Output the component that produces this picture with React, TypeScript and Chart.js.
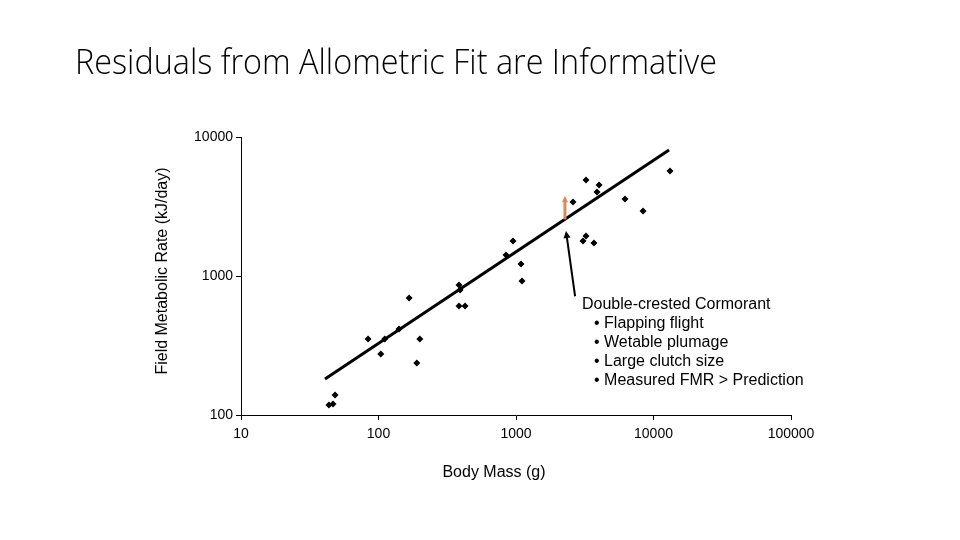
import { useEffect, useRef } from "react";
import { Chart, registerables } from "chart.js";

Chart.register(...registerables);

// Body mass (g) and field metabolic rate (kJ/day)
const bodyMass = [
  43.6, 46.7, 48.3, 84, 104, 111, 141, 167, 200, 190, 385, 392, 385, 426, 846,
  951, 1087, 1106, 2598, 3229, 4017, 3882, 3229, 3070, 3690, 6206, 8392, 13183,
];
const fieldMetabolicRate = [
  118, 120, 139, 352, 275, 352, 416, 695, 352, 237, 861, 793, 608, 608, 1416,
  1786, 1220, 920, 3406, 4907, 4515, 4022, 1940, 1786, 1727, 3580, 2936, 5693,
];

// allometric fit line end points
const fitMass = [40.8, 12970];
const fitRate = [181.6, 8061];

// cormorant residual arrow (mass, predicted, measured)
const cormorantMass = 2270;
const cormorantPredicted = 2553;
const cormorantMeasured = 3760;
// pointer from note to fit line
const pointerFrom = [2690, 715];
const pointerTo = [2310, 2110];

const xTicks = [10, 100, 1000, 10000, 100000];
const yTicks = [100, 1000, 10000];

const title = "Residuals from Allometric Fit are Informative";
const xTitle = "Body Mass (g)";
const yTitle = "Field Metabolic Rate (kJ/day)";
const noteLines = [
  "Double-crested Cormorant",
  "• Flapping flight",
  "• Wetable plumage",
  "• Large clutch size",
  "• Measured FMR > Prediction",
];

const ARIAL = "'Liberation Sans', Arial, sans-serif";

const drawArrow = (
  ctx: CanvasRenderingContext2D,
  x1: number,
  y1: number,
  x2: number,
  y2: number,
  color: string,
  width: number,
  head: number
) => {
  const ang = Math.atan2(y2 - y1, x2 - x1);
  ctx.save();
  ctx.strokeStyle = color;
  ctx.fillStyle = color;
  ctx.lineWidth = width;
  ctx.beginPath();
  ctx.moveTo(x1, y1);
  ctx.lineTo(x2 - Math.cos(ang) * head * 0.8, y2 - Math.sin(ang) * head * 0.8);
  ctx.stroke();
  ctx.beginPath();
  ctx.moveTo(x2, y2);
  ctx.lineTo(
    x2 - head * Math.cos(ang - 0.45),
    y2 - head * Math.sin(ang - 0.45)
  );
  ctx.lineTo(
    x2 - head * Math.cos(ang + 0.45),
    y2 - head * Math.sin(ang + 0.45)
  );
  ctx.closePath();
  ctx.fill();
  ctx.restore();
};

// title, axis titles, arrows and the note text
const annotations = {
  id: "annotations",
  afterDatasetsDraw(chart: any) {
    const { ctx, scales } = chart;
    const xs = scales.x;
    const ys = scales.y;

    ctx.save();
    ctx.font = "300 35px 'Open Sans', sans-serif";
    ctx.fillStyle = "#000";
    ctx.textBaseline = "alphabetic";
    const w = ctx.measureText(title).width;
    ctx.translate(75, 74);
    ctx.scale(642 / w, 1);
    ctx.fillText(title, 0, 0);
    ctx.restore();

    // axis titles (off-centre in the original)
    ctx.save();
    ctx.font = `16px ${ARIAL}`;
    ctx.fillStyle = "#000";
    ctx.textAlign = "center";
    ctx.textBaseline = "middle";
    ctx.fillText(xTitle, 494, 473);
    ctx.translate(163, 271);
    ctx.rotate(-Math.PI / 2);
    ctx.fillText(yTitle, 0, 0);
    ctx.restore();

    const cx = xs.getPixelForValue(cormorantMass);
    drawArrow(
      ctx,
      cx,
      ys.getPixelForValue(cormorantPredicted),
      cx,
      ys.getPixelForValue(cormorantMeasured),
      "#d98a56",
      3,
      7
    );

    drawArrow(
      ctx,
      xs.getPixelForValue(pointerFrom[0]),
      ys.getPixelForValue(pointerFrom[1]),
      xs.getPixelForValue(pointerTo[0]),
      ys.getPixelForValue(pointerTo[1]),
      "#000",
      2,
      8
    );

    ctx.save();
    ctx.font = `16px ${ARIAL}`;
    ctx.fillStyle = "#000";
    ctx.textBaseline = "middle";
    noteLines.forEach((line, i) => {
      ctx.fillText(line, i === 0 ? 582 : 594, 305 + i * 19);
    });
    ctx.restore();
  },
};

export default function App() {
  const canvasRef = useRef<HTMLCanvasElement | null>(null);

  useEffect(() => {
    if (!canvasRef.current) return;
    const chart = new Chart(canvasRef.current, {
      type: "scatter",
      data: {
        datasets: [
          {
            label: "FMR",
            data: bodyMass.map((m, i) => ({ x: m, y: fieldMetabolicRate[i] })),
            pointStyle: "rectRot",
            pointRadius: 3.5,
            backgroundColor: "#000",
            borderColor: "#000",
            borderWidth: 0,
          },
          {
            label: "Fit",
            type: "line",
            data: fitMass.map((m, i) => ({ x: m, y: fitRate[i] })),
            borderColor: "#000",
            borderWidth: 3,
            pointRadius: 0,
            fill: false,
          },
        ],
      },
      options: {
        animation: false,
        responsive: true,
        maintainAspectRatio: false,
        layout: { padding: { left: 149, right: 169, top: 137, bottom: 53 } },
        plugins: {
          legend: { display: false },
          tooltip: { enabled: false },
        },
        scales: {
          x: {
            type: "logarithmic",
            min: 10,
            max: 100000,
            afterBuildTicks: (s: any) => {
              s.ticks = xTicks.map((v) => ({ value: v }));
            },
            afterFit: (s: any) => {
              s.height = 72;
            },
            ticks: {
              callback: (v: any) => String(v),
              color: "#000",
              font: { family: ARIAL, size: 14 },
              padding: 6,
              maxRotation: 0,
            },
            grid: {
              drawOnChartArea: false,
              drawTicks: true,
              tickLength: 5,
              color: "#000",
            },
            border: { display: true, color: "#000", width: 1 },
          },
          y: {
            type: "logarithmic",
            min: 100,
            max: 10000,
            afterBuildTicks: (s: any) => {
              s.ticks = yTicks.map((v) => ({ value: v }));
            },
            afterFit: (s: any) => {
              s.width = 92;
            },
            ticks: {
              callback: (v: any) => String(v),
              color: "#000",
              font: { family: ARIAL, size: 14 },
              padding: 3,
            },
            grid: {
              drawOnChartArea: false,
              drawTicks: true,
              tickLength: 5,
              color: "#000",
            },
            border: { display: true, color: "#000", width: 1 },
          },
        },
      },
      plugins: [annotations],
    });
    return () => chart.destroy();
  }, []);

  return (
    <div
      style={{
        position: "absolute",
        left: 0,
        top: 0,
        width: 960,
        height: 540,
        background: "#fff",
      }}
    >
      <canvas ref={canvasRef} />
    </div>
  );
}
